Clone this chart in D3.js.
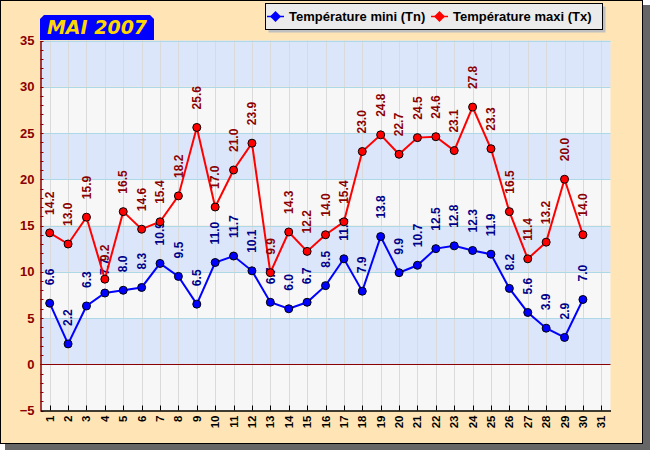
<!DOCTYPE html>
<html><head><meta charset="utf-8">
<script src="https://cdn.jsdelivr.net/npm/d3@7"></script>
<style>body{margin:0;background:#fff}svg{display:block}</style>
</head><body><svg id="c" width="650" height="450"></svg>
<script>
const days = d3.range(1, 32).map(String);
const tnValues = [6.6,2.2,6.3,7.7,8.0,8.3,10.9,9.5,6.5,11.0,11.7,10.1,6.7,6.0,6.7,8.5,11.4,7.9,13.8,9.9,10.7,12.5,12.8,12.3,11.9,8.2,5.6,3.9,2.9,7.0];
const txValues = [14.2,13.0,15.9,9.2,16.5,14.6,15.4,18.2,25.6,17.0,21.0,23.9,9.9,14.3,12.2,14.0,15.4,23.0,24.8,22.7,24.5,24.6,23.1,27.8,23.3,16.5,11.4,13.2,20.0,14.0];
const yTicks = [-5,0,5,10,15,20,25,30,35];
const seriesNames = ["Température mini (Tn)","Température maxi (Tx)"];
const title = "MAI 2007";

const svg = d3.select("#c");
const m = {l:40.5, r:610.5, t:40.5, b:410.5};

// frame + shadow
svg.append("rect").attr("x",5).attr("y",5).attr("width",645).attr("height",445).attr("fill","#666");
svg.append("rect").attr("x",0.5).attr("y",0.5).attr("width",642).attr("height",443).attr("fill","#ffe4b5").attr("stroke","#000");

const x = d3.scaleBand().domain(days).range([m.l, m.r]);
const y = d3.scaleLinear().domain([-5,35]).range([m.b, m.t]);
const cx = d => x(d) + x.bandwidth()/2;

// bands
for (let i = 0; i < yTicks.length-1; i++) {
  const lo = yTicks[i], hi = yTicks[i+1];
  svg.append("rect").attr("x",m.l).attr("y",y(hi)).attr("width",m.r-m.l).attr("height",y(lo)-y(hi))
    .attr("fill", i % 2 === 0 ? "#f7f7f7" : "#dce6fb");
}
// vertical grid
svg.append("g").selectAll("line").data(days).join("line")
  .attr("x1",d=>Math.round(cx(d))+0.5).attr("x2",d=>Math.round(cx(d))+0.5)
  .attr("y1",m.t).attr("y2",m.b).attr("stroke","#dadada").attr("stroke-width",1);
// horizontal grid
svg.append("g").selectAll("line").data(yTicks.filter(v=>v!==-5)).join("line")
  .attr("x1",m.l).attr("x2",m.r).attr("y1",d=>Math.round(y(d))+0.5).attr("y2",d=>Math.round(y(d))+0.5)
  .attr("stroke",d=>d===0?"#8b0000":"#add8e6");

// y axis
const ya = svg.append("g").attr("transform",`translate(${m.l},0)`)
  .call(d3.axisLeft(y).tickValues(yTicks).tickSize(0).tickPadding(6).tickFormat(d3.format("d")));
ya.select(".domain").attr("stroke","#8b0000").attr("stroke-width",1.5);
ya.selectAll("text").attr("fill","#8b0000").attr("font-family","Liberation Sans, Arial, sans-serif")
  .attr("font-weight","bold").attr("font-size",13);
svg.append("g").selectAll("line").data(d3.range(-5,36,1)).join("line")
  .attr("x1",m.l).attr("x2",m.l+3).attr("y1",d=>Math.round(y(d))+0.5).attr("y2",d=>Math.round(y(d))+0.5)
  .attr("stroke","#8b0000");

// x axis
const xa = svg.append("g").attr("transform",`translate(0,${m.b})`)
  .call(d3.axisBottom(x).tickSize(0).tickPadding(0));
xa.select(".domain").attr("stroke","#000").attr("stroke-width",1.5);
xa.selectAll(".tick text").attr("transform","rotate(-90)").attr("text-anchor","end")
  .attr("x",-5).attr("y",0).attr("dy","0.35em")
  .attr("fill","#000").attr("font-family","Liberation Sans, Arial, sans-serif").attr("font-weight","bold").attr("font-size",11.5);
svg.append("g").selectAll("line").data(days).join("line")
  .attr("x1",d=>Math.round(cx(d))+0.5).attr("x2",d=>Math.round(cx(d))+0.5)
  .attr("y1",m.b-5).attr("y2",m.b).attr("stroke","#000");

function drawSeries(vals, lineColor, labelColor) {
  const data = vals.map((v,i)=>({d:days[i], v}));
  const g = svg.append("g");
  g.append("path").datum(data)
    .attr("d", d3.line().x(p=>cx(p.d)).y(p=>y(p.v)))
    .attr("fill","none").attr("stroke",lineColor).attr("stroke-width",2);
  g.selectAll("circle").data(data).join("circle")
    .attr("cx",p=>cx(p.d)).attr("cy",p=>y(p.v)).attr("r",4)
    .attr("fill",lineColor).attr("stroke","#000").attr("stroke-width",1);
  g.selectAll("text").data(data).join("text")
    .attr("transform",p=>`translate(${cx(p.d)},${y(p.v)-18}) rotate(-90)`)
    .attr("dy","0.35em").attr("text-anchor","start")
    .attr("fill",labelColor).attr("font-family","Liberation Sans, Arial, sans-serif")
    .attr("font-weight","bold").attr("font-size",12)
    .text(p=>p.v.toFixed(1));
}
drawSeries(tnValues, "#0000ff", "#00008b");
drawSeries(txValues, "#ff0000", "#8b0000");

// title
svg.append("path").attr("d","M40,40 L40,19 L44,15 L150,15 L154,19 L154,40 Z").attr("fill","#0000ff");
svg.append("text").attr("x",97).attr("y",34).attr("text-anchor","middle")
  .attr("fill","#ffd700").attr("font-family","DejaVu Sans, sans-serif")
  .attr("font-weight","bold").attr("font-style","italic").attr("font-size",19).text(title);

// legend
const lg = svg.append("g");
lg.append("rect").attr("x",268.5).attr("y",6.5).attr("width",337).attr("height",26).attr("fill","#c0c0c0");
lg.append("rect").attr("x",265.5).attr("y",3.5).attr("width",337).attr("height",26).attr("fill","#ebebeb").attr("stroke","#000");
const legX = [267, 431];
const legC = ["#0000ff","#ff0000"];
seriesNames.forEach((n,i)=>{
  const x0 = legX[i];
  lg.append("line").attr("x1",x0).attr("x2",x0+17).attr("y1",16.5).attr("y2",16.5).attr("stroke",legC[i]).attr("stroke-width",1.5);
  lg.append("path").attr("d",`M${x0+8.5},11 L${x0+14},16.5 L${x0+8.5},22 L${x0+3},16.5 Z`).attr("fill",legC[i]);
  lg.append("text").attr("x",x0+22).attr("y",21).attr("fill","#000")
    .attr("font-family","Liberation Sans, Arial, sans-serif").attr("font-weight","bold").attr("font-size",13).text(n);
});
</script></body></html>
